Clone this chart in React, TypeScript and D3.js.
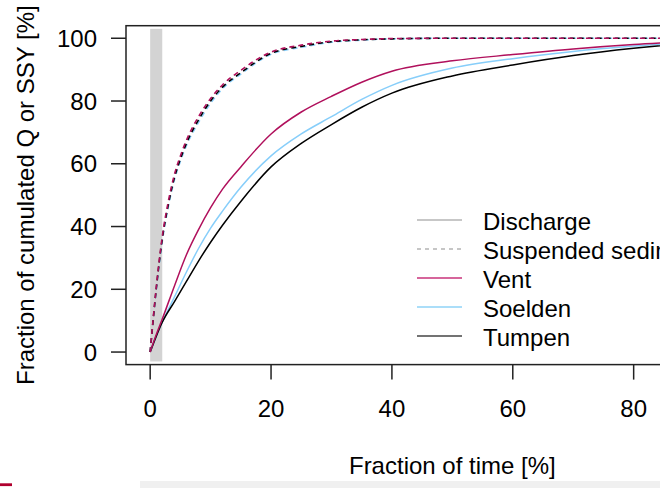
import React from "react";
import * as d3 from "d3";

// ---- data ----
const timeQ = [0, 1, 2, 4, 6, 8, 10, 12, 15, 20, 25, 30, 35, 40, 50, 60, 70, 80, 90, 100];
const ventQ = [0, 5.5, 10.5, 21, 31, 39, 46, 52, 59, 69.5, 76.5, 81.5, 86, 89.5, 92.8, 94.8, 96.6, 98, 99, 100];
const soeldenQ = [0, 5, 9.5, 17.5, 25.5, 33, 39.5, 45, 52.5, 62.5, 69.5, 75, 80.5, 85, 90.5, 93.5, 95.8, 97.5, 98.8, 100];
const tumpenQ = [0, 5, 9.5, 16, 22.5, 29, 35, 40.5, 48, 59, 66.5, 72.5, 78, 82.5, 88, 91.5, 94.5, 96.8, 98.6, 100];

const timeSSY = [0, 1, 2, 3, 4, 5, 6, 8, 10, 12, 15, 20, 25, 30, 35, 40, 50, 60, 80, 100];
const ventSSY = [0, 20.5, 36.8, 48, 56.5, 62.5, 67.5, 75, 80.8, 85.2, 89.8, 95.6, 97.8, 99.1, 99.6, 99.9, 100, 100, 100, 100];
const soeldenSSY = [0, 19.5, 35.2, 46.2, 54.8, 60.8, 65.8, 73.2, 79.3, 84, 88.6, 94.9, 97.1, 98.7, 99.4, 99.8, 100, 100, 100, 100];
const tumpenSSY = [0, 20, 36, 47, 55.5, 61.5, 66.5, 74, 80, 84.5, 89, 95.2, 97.4, 98.9, 99.5, 99.8, 100, 100, 100, 100];

// x ticks visible in the (cropped) reference
const xTicks = [0, 20, 40, 60, 80];
const yTicks = [0, 20, 40, 60, 80, 100];
const band = [0, 2]; // shaded time fraction
const bandY = [-3, 103];

const legendLabels = ["Discharge", "Suspended sediment", "Vent", "Soelden", "Tumpen"];
const legendColors = ["#b4b4b4", "#b4b4b4", "#c8327a", "#8fd3f7", "#444444"];
const legendDash = [null, "4,4", null, null, null];

const seriesColors = { vent: "#b0105c", soelden: "#87cefa", tumpen: "#000000" };

const FONT = "'Liberation Sans', Arial, Helvetica, sans-serif";

export default function App() {
  const W = 660;
  const H = 488;
  const x = d3.scaleLinear().domain([-4, 104]).range([126, 778.7]);
  const y = d3.scaleLinear().domain([-4, 104]).range([364.6, 25.7]);

  const mk = (xs: number[], ys: number[]) =>
    d3
      .line<number>()
      .x((_, i) => x(xs[i]))
      .y((d) => y(d))
      .curve(d3.curveMonotoneX)(ys) as string;

  const solid = [
    { d: mk(timeQ, soeldenQ), c: seriesColors.soelden },
    { d: mk(timeQ, tumpenQ), c: seriesColors.tumpen },
    { d: mk(timeQ, ventQ), c: seriesColors.vent },
  ];
  const dashed = [
    { d: mk(timeSSY, soeldenSSY), c: seriesColors.soelden },
    { d: mk(timeSSY, tumpenSSY), c: seriesColors.tumpen },
    { d: mk(timeSSY, ventSSY), c: seriesColors.vent },
  ];

  const x0 = x.range()[0];
  const x1 = x.range()[1];
  const yTop = y.range()[1];
  const yBot = y.range()[0];

  const legX1 = 417;
  const legX2 = 462;
  const legTextX = 483;
  const legY0 = 220;
  const legStep = 29;

  return (
    <svg
      width={W}
      height={H}
      style={{ position: "absolute", left: 0, top: 0, background: "#fff", overflow: "hidden" }}
      fontFamily={FONT}
    >
      <rect x={0} y={0} width={W} height={H} fill="#fff" />
      {/* shaded band */}
      <rect
        x={x(band[0])}
        y={y(bandY[1])}
        width={x(band[1]) - x(band[0])}
        height={y(bandY[0]) - y(bandY[1])}
        fill="#d3d3d3"
      />
      {/* curves */}
      {solid.map((s, i) => (
        <path key={"s" + i} d={s.d} fill="none" stroke={s.c} strokeWidth={1.5} />
      ))}
      {dashed.map((s, i) => (
        <path key={"d" + i} d={s.d} fill="none" stroke={s.c} strokeWidth={1.6} strokeDasharray="5,4" />
      ))}
      {/* frame */}
      <rect x={x0} y={yTop} width={x1 - x0} height={yBot - yTop} fill="none" stroke="#222" strokeWidth={1.5} />
      {/* y axis */}
      {yTicks.map((t) => (
        <g key={"y" + t}>
          <line x1={x0 - 15} x2={x0} y1={y(t)} y2={y(t)} stroke="#222" strokeWidth={1.5} />
          <text x={97} y={y(t) + 8.5} textAnchor="end" fontSize={24} fill="#000">
            {t}
          </text>
        </g>
      ))}
      {/* x axis */}
      {xTicks.map((t) => (
        <g key={"x" + t}>
          <line x1={x(t)} x2={x(t)} y1={yBot} y2={yBot + 15} stroke="#222" strokeWidth={1.5} />
          <text x={x(t)} y={417} textAnchor="middle" fontSize={24} fill="#000">
            {t}
          </text>
        </g>
      ))}
      <text x={(x0 + x1) / 2} y={474} textAnchor="middle" fontSize={24} fill="#000">
        Fraction of time [%]
      </text>
      <text
        transform={`translate(33.5,${(yTop + yBot) / 2}) rotate(-90)`}
        textAnchor="middle"
        fontSize={24}
        fill="#000"
      >
        Fraction of cumulated Q or SSY [%]
      </text>
      {/* legend */}
      {legendLabels.map((lab, i) => {
        const ly = legY0 + i * legStep;
        return (
          <g key={lab}>
            <line
              x1={legX1}
              x2={legX2}
              y1={ly}
              y2={ly}
              stroke={legendColors[i]}
              strokeWidth={1.6}
              strokeDasharray={legendDash[i] || undefined}
            />
            <text x={legTextX} y={ly + 9.5} fontSize={24} fill="#000">
              {lab}
            </text>
          </g>
        );
      })}
      {/* page artifacts at bottom */}
      <rect x={0} y={483.3} width={12} height={2.8} fill="#b0002e" />
      <rect x={140} y={481} width={520} height={7} fill="#f0f0f0" />
    </svg>
  );
}
